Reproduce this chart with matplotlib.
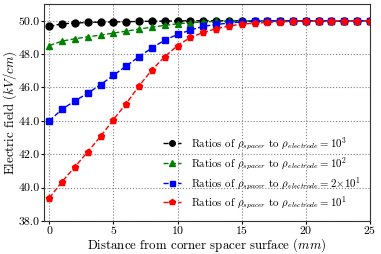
import numpy as np
import matplotlib
matplotlib.use('Agg')
import matplotlib.pyplot as plt
from matplotlib.ticker import FormatStrFormatter

plt.rcParams['font.family'] = 'serif'
plt.rcParams['font.serif'] = ['cmr10']
plt.rcParams['mathtext.fontset'] = 'cm'
plt.rcParams['axes.formatter.use_mathtext'] = True

# distance from corner spacer surface (mm)
x = np.arange(0, 26)

# electric field (kV/cm) for each resistivity ratio
e_1000 = [49.66, 49.82, 49.86, 49.90, 49.92, 49.93, 49.94, 49.96, 49.97, 49.98, 49.99, 50.0, 50.0,
          50.0, 50.0, 50.0, 50.0, 50.0, 50.0, 50.0, 50.0, 50.0, 50.0, 50.0, 50.0, 50.0]
e_100 = [48.51, 48.78, 48.92, 49.04, 49.14, 49.26, 49.38, 49.50, 49.62, 49.72, 49.82, 49.88, 49.93,
         49.96, 49.98, 49.99, 50.0, 50.0, 50.0, 50.0, 50.0, 50.0, 50.0, 50.0, 50.0, 50.0]
e_20 = [44.0, 44.7, 45.2, 45.66, 46.17, 46.73, 47.29, 47.85, 48.37, 48.84, 49.18, 49.44, 49.66,
        49.78, 49.86, 49.93, 49.96, 49.98, 50.0, 50.0, 50.0, 50.0, 50.0, 50.0, 50.0, 50.0]
e_10 = [39.38, 40.36, 41.25, 42.15, 43.07, 44.08, 45.04, 46.1, 47.05, 47.85, 48.51, 49.0, 49.3,
        49.52, 49.68, 49.8, 49.85, 49.9, 49.94, 49.96, 49.98, 50.0, 50.0, 50.0, 50.0, 50.0]

fig = plt.figure(figsize=(3.81, 2.54), dpi=100)
ax = fig.add_axes([0.116, 0.13, 0.855, 0.854])

ax.plot(x, e_1000, 'k--', marker='o', ms=5, lw=1,
        label=r'Ratios of $\rho_{spacer}$ to $\rho_{electrode}=10^3$')
ax.plot(x, e_100, '--', color='green', marker='^', ms=5, lw=1,
        label=r'Ratios of $\rho_{spacer}$ to $\rho_{electrode}=10^2$')
ax.plot(x, e_20, '--', color='blue', marker='s', ms=4.5, lw=1,
        label=r'Ratios of $\rho_{spacer}$ to $\rho_{electrode}=2{\times}10^1$')
ax.plot(x, e_10, '--', color='red', marker='p', ms=5, lw=1,
        label=r'Ratios of $\rho_{spacer}$ to $\rho_{electrode}=10^1$')

ax.set_xlim(-0.4, 25)
ax.set_ylim(38, 51)
ax.set_yticks(np.arange(38, 51, 2))
ax.set_xticks([0, 5, 10, 15, 20, 25])
ax.yaxis.set_major_formatter(FormatStrFormatter('%.1f'))
ax.grid(True, ls=':', color='gray', lw=0.8)
ax.tick_params(labelsize=8.5, length=2, pad=1)
ax.tick_params(axis='x', pad=0.5)
for s in ax.spines.values():
    s.set_color('#333333')

ax.set_xlabel(r'Distance from corner spacer surface ($mm$)', fontsize=9.3)
ax.xaxis.set_label_coords(0.5, -0.072)
ax.set_ylabel(r'Electric field ($kV/cm$)', fontsize=9.3, labelpad=0)
ax.legend(loc='lower right', frameon=False, fontsize=7.8, handlelength=1.6,
          markerscale=0.8, borderaxespad=0.5, labelspacing=0.25, handletextpad=0.9)

fig.savefig('out.png', dpi=100)
